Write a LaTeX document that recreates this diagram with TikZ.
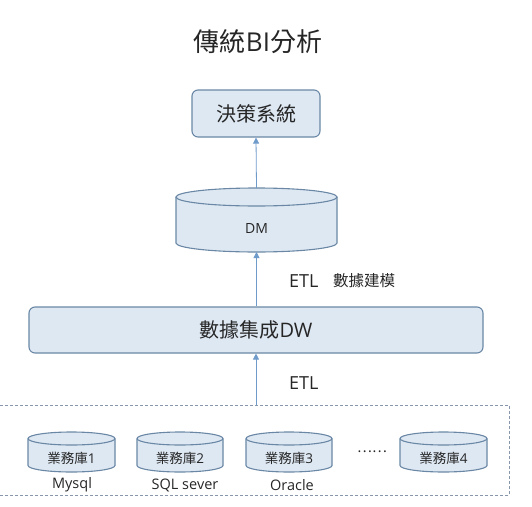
\documentclass[tikz,border=0pt]{standalone}
\usepackage{fontspec}
\setmainfont{Open Sans}
\newfontfamily\cjk{Noto Sans CJK TC}
\usetikzlibrary{arrows.meta}
\definecolor{boxfill}{HTML}{DEE8F3}
\definecolor{boxline}{HTML}{6A88A6}
\definecolor{arrowc}{HTML}{6F9BCB}
\definecolor{dashc}{HTML}{8796AA}
\definecolor{txt}{HTML}{262626}
\newcommand\mycyl[5]{% L R T B ry (pixel coords, y downward)
  \fill[boxfill] (#1,-#3-#5) -- (#1,-#4+#5) arc[start angle=180,end angle=360,x radius={(#2-#1)/2},y radius=#5] -- (#2,-#3-#5) arc[start angle=0,end angle=180,x radius={(#2-#1)/2},y radius=#5] -- cycle;
  \draw[boxline,line width=1.1pt] (#1,-#3-#5) -- (#1,-#4+#5) arc[start angle=180,end angle=360,x radius={(#2-#1)/2},y radius=#5] -- (#2,-#3-#5);
  \draw[boxline,line width=1.1pt] ({(#1+#2)/2},-#3-#5) ellipse[x radius={(#2-#1)/2},y radius=#5];
}
\tikzset{
  rbox/.style={draw=boxline,fill=boxfill,line width=1.1pt,rounded corners=6pt,inner sep=0pt},
  hold/.style={inner sep=0pt,outer sep=0pt,draw=none},
  conn/.style={draw=arrowc,line width=0.8pt,-{Triangle[width=6pt,length=6pt]}},
  lbl/.style={text=txt,inner sep=0pt},
}
\begin{document}
\begin{tikzpicture}[x=1pt,y=1pt]
\useasboundingbox (0,0) rectangle (532,-506);
% title
\node[lbl,font=\fontsize{26}{30}\selectfont] (title) at (258,-42) {{\cjk 傳統}BI{\cjk 分析}};
% decision system
\node[rbox,minimum width=128pt,minimum height=47pt,font=\fontsize{20}{24}\selectfont\cjk,text=txt] (dec) at (256,-113.5) {決策系統};
% DM cylinder
\mycyl{176}{337}{188}{252}{9}
\node[hold,minimum width=161pt,minimum height=64pt] (dm) at (256.5,-220) {};
\node[lbl,font=\fontsize{14}{17}\selectfont] (dmt) at (256.5,-228) {DM};
% DW
\node[rbox,minimum width=454pt,minimum height=46pt,font=\fontsize{20}{24}\selectfont,text=txt] (dw) at (256,-330) {{\cjk 數據集成}DW};
% labels
\node[lbl,font=\fontsize{18}{21}\selectfont,anchor=west] (etl1) at (289,-281) {ETL};
\node[lbl,font=\fontsize{15.5}{18}\selectfont\cjk,anchor=west] (model) at (333,-281) {數據建模};
\node[lbl,font=\fontsize{18}{21}\selectfont,anchor=west] (etl2) at (289,-383) {ETL};
% dashed source box
\node[hold,minimum width=516pt,minimum height=90pt] (src) at (251,-450) {};
\draw[dashc,line width=1pt,dash pattern=on 3pt off 2pt] (-5,-405) -- (509,-405) -- (509,-495) -- (-5,-495);
% source cylinders
\mycyl{28}{115}{432}{472}{6.5}
\mycyl{137}{223}{432}{472}{6.5}
\mycyl{246}{332}{432}{472}{6.5}
\mycyl{400}{487}{432}{472}{6.5}
\node[lbl,font=\fontsize{13.5}{16}\selectfont] (db1) at (71.5,-458) {{\cjk 業務庫}1};
\node[lbl,font=\fontsize{13.5}{16}\selectfont] (db2) at (180,-458) {{\cjk 業務庫}2};
\node[lbl,font=\fontsize{13.5}{16}\selectfont] (db3) at (289,-458) {{\cjk 業務庫}3};
\node[lbl,font=\fontsize{13.5}{16}\selectfont] (db4) at (443.5,-458) {{\cjk 業務庫}4};
\node[lbl,font=\fontsize{14}{16}\selectfont\cjk] (dots) at (372,-452) {……};
\node[lbl,font=\fontsize{14.5}{17}\selectfont] (l1) at (72,-485) {Mysql};
\node[lbl,font=\fontsize{14.5}{17}\selectfont] (l2) at (185,-485) {SQL sever};
\node[lbl,font=\fontsize{14.5}{17}\selectfont] (l3) at (292,-485) {Oracle};
% connectors
\draw[conn] (dm.north) -- (dec.south);
\draw[conn] (dw.north -| dm.south) -- (dm.south);
\draw[conn] (src.north -| dw.south) -- (dw.south);
\end{tikzpicture}
\end{document}
